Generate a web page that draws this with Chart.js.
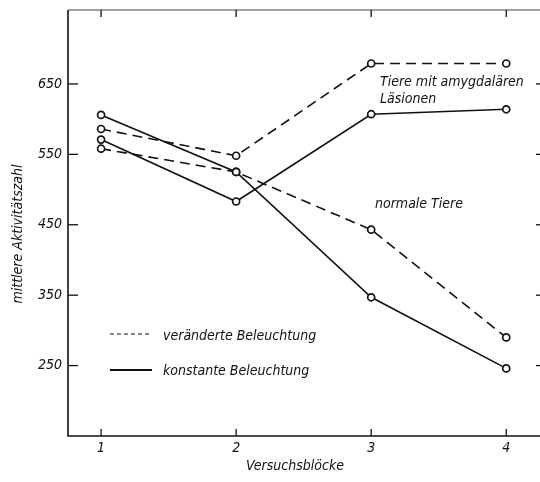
<!DOCTYPE html>
<html>
<head>
<meta charset="utf-8">
<script src="https://cdn.jsdelivr.net/npm/chart.js@4/dist/chart.umd.min.js"></script>
<style>
  html, body { margin: 0; padding: 0; background: #fff; }
  #wrap { width: 540px; height: 482px; position: relative; }
</style>
</head>
<body>
<div id="wrap"><canvas id="c" width="540" height="482"></canvas></div>
<script>
// ---- data ----
const blocks = [1, 2, 3, 4];
const xTickValues = [1, 2, 3, 4];
const yTickValues = [250, 350, 450, 550, 650];

const lesionChanged  = [586, 548, 679, 679];  // Tiere mit amygdalären Läsionen, veränderte Beleuchtung
const lesionConstant = [571, 483, 607, 614];  // Tiere mit amygdalären Läsionen, konstante Beleuchtung
const normalChanged  = [558, 525, 443, 290];  // normale Tiere, veränderte Beleuchtung
const normalConstant = [606, 525, 347, 246];  // normale Tiere, konstante Beleuchtung

const legendLabels = ["veränderte Beleuchtung", "konstante Beleuchtung"];
const groupLabels = ["Tiere mit amygdalären", "Läsionen", "normale Tiere"];
const xTitle = "Versuchsblöcke";
const yTitle = "mittlere Aktivitätszahl";

const FONT = '"Liberation Sans Narrow", "DejaVu Sans Condensed", "Roboto Condensed", "Liberation Sans", sans-serif';
const DASH = [10, 6];

function pts(arr) { return blocks.map((b, i) => ({ x: b, y: arr[i] })); }
function ds(label, arr, dashed) {
  return {
    label, data: pts(arr),
    borderColor: '#111', borderWidth: 1.6, borderDash: dashed ? DASH : [],
    tension: 0, fill: false,
    pointRadius: 3.5, pointBorderWidth: 1.7,
    pointBackgroundColor: '#fff', pointBorderColor: '#111'
  };
}

const decor = {
  id: 'decor',
  afterDraw(chart) {
    const ctx = chart.ctx;
    const a = chart.chartArea;
    const xs = chart.scales.x, ys = chart.scales.y;
    ctx.save();
    ctx.strokeStyle = '#111';
    ctx.setLineDash([]);
    // left and bottom axis lines
    ctx.lineWidth = 1.6;
    ctx.beginPath();
    ctx.moveTo(a.left, a.top); ctx.lineTo(a.left, a.bottom); ctx.lineTo(a.right, a.bottom);
    ctx.stroke();
    // top line (faint)
    ctx.lineWidth = 1.2;
    ctx.strokeStyle = '#444';
    ctx.beginPath(); ctx.moveTo(a.left, a.top); ctx.lineTo(a.right, a.top); ctx.stroke();
    ctx.strokeStyle = '#111';
    ctx.lineWidth = 1.3;
    // inward ticks
    xTickValues.forEach(v => {
      const px = xs.getPixelForValue(v);
      ctx.beginPath(); ctx.moveTo(px, a.bottom); ctx.lineTo(px, a.bottom - 7); ctx.stroke();
      ctx.beginPath(); ctx.moveTo(px, a.top); ctx.lineTo(px, a.top + 7); ctx.stroke();
    });
    yTickValues.forEach(v => {
      const py = ys.getPixelForValue(v);
      ctx.beginPath(); ctx.moveTo(a.left, py); ctx.lineTo(a.left + 10, py); ctx.stroke();
      ctx.beginPath(); ctx.moveTo(a.right, py); ctx.lineTo(a.right - 4, py); ctx.stroke();
    });

    // legend
    ctx.fillStyle = '#111';
    ctx.font = 'italic 14px ' + FONT;
    ctx.textBaseline = 'alphabetic';
    ctx.textAlign = 'left';
    ctx.lineWidth = 1.2;
    ctx.setLineDash([4, 3]);
    ctx.beginPath(); ctx.moveTo(110, 334); ctx.lineTo(152, 334); ctx.stroke();
    ctx.setLineDash([]);
    ctx.lineWidth = 2;
    ctx.beginPath(); ctx.moveTo(110, 370); ctx.lineTo(152, 370); ctx.stroke();
    ctx.fillText(legendLabels[0], 163, 340);
    ctx.fillText(legendLabels[1], 163, 375);

    // group annotations
    ctx.fillText(groupLabels[0], 380, 86);
    ctx.fillText(groupLabels[1], 380, 103);
    ctx.fillText(groupLabels[2], 375, 208);

    // axis titles
    ctx.textAlign = 'center';
    ctx.textBaseline = 'middle';
    ctx.fillText(xTitle, 295, 466);
    ctx.save();
    ctx.translate(18, 234);
    ctx.rotate(-Math.PI / 2);
    ctx.fillText(yTitle, 0, 0);
    ctx.restore();
    ctx.restore();
  }
};

new Chart(document.getElementById('c'), {
  type: 'line',
  data: {
    datasets: [
      ds('Läsionen, veränderte Beleuchtung', lesionChanged, true),
      ds('Läsionen, konstante Beleuchtung', lesionConstant, false),
      ds('normale Tiere, veränderte Beleuchtung', normalChanged, true),
      ds('normale Tiere, konstante Beleuchtung', normalConstant, false)
    ]
  },
  options: {
    responsive: false,
    animation: false,
    devicePixelRatio: 1,
    layout: { autoPadding: false, padding: { top: 10, right: 0, left: 0, bottom: 0 } },
    plugins: { legend: { display: false }, tooltip: { enabled: false } },
    scales: {
      x: {
        type: 'linear', min: 0.755, max: 4.25,
        afterBuildTicks: s => { s.ticks = xTickValues.map(v => ({ value: v })); },
        afterFit: s => { s.height = 46; s.paddingLeft = 0; s.paddingRight = 0; },
        grid: { display: false, drawTicks: false },
        border: { display: false },
        ticks: { color: '#111', padding: 4, font: { family: FONT, size: 14, style: 'italic' }, callback: v => String(v) }
      },
      y: {
        type: 'linear', min: 150, max: 755,
        afterBuildTicks: s => { s.ticks = yTickValues.map(v => ({ value: v })); },
        afterFit: s => { s.width = 68; s.paddingTop = 0; s.paddingBottom = 0; },
        grid: { display: false, drawTicks: false },
        border: { display: false },
        ticks: { color: '#111', padding: 6, font: { family: FONT, size: 14, style: 'italic' }, callback: v => String(v) }
      }
    }
  },
  plugins: [decor]
});
</script>
</body>
</html>
